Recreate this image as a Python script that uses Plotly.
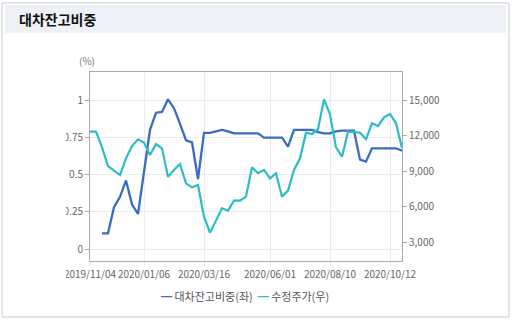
import plotly.graph_objects as go

# Weekly sample dates (category axis)
dates = [
    "2019/11/04", "2019/11/11", "2019/11/18", "2019/11/25", "2019/12/02", "2019/12/09",
    "2019/12/16", "2019/12/23", "2019/12/30", "2020/01/06", "2020/01/13", "2020/01/20",
    "2020/01/27", "2020/02/03", "2020/02/10", "2020/02/17", "2020/02/24", "2020/03/02",
    "2020/03/09", "2020/03/16", "2020/03/23", "2020/03/30", "2020/04/06", "2020/04/13",
    "2020/04/20", "2020/04/27", "2020/05/04", "2020/05/11", "2020/05/18", "2020/05/25",
    "2020/06/01", "2020/06/08", "2020/06/15", "2020/06/22", "2020/06/29", "2020/07/06",
    "2020/07/13", "2020/07/20", "2020/07/27", "2020/08/03", "2020/08/10", "2020/08/17",
    "2020/08/24", "2020/08/31", "2020/09/07", "2020/09/14", "2020/09/21", "2020/09/25",
    "2020/09/29", "2020/10/05", "2020/10/12", "2020/10/19", "2020/10/26",
]

# 대차잔고비중 (%), left axis
loan_ratio = [
    None, None, 0.105, 0.105, 0.28, 0.35, 0.46, 0.30, 0.235, 0.51,
    0.80, 0.915, 0.92, 1.005, 0.945, 0.84, 0.73, 0.715, 0.47, 0.78,
    0.78, 0.79, 0.80, 0.79, 0.776, 0.776, 0.776, 0.776, 0.776, 0.747,
    0.747, 0.747, 0.747, 0.687, 0.80, 0.80, 0.80, 0.80, 0.785, 0.776,
    0.776, 0.79, 0.794, 0.794, 0.794, 0.60, 0.586, 0.676, 0.676, 0.676,
    0.676, 0.676, 0.66,
]

# 수정주가 (원), right axis
adj_price = [
    12320, 12320, 11000, 9420, 9030, 8660, 10070, 11100, 11680, 11400,
    10350, 11280, 10920, 8520, 9090, 9590, 7960, 7620, 7820, 5140,
    3790, 4860, 5850, 5650, 6490, 6490, 6830, 9310, 8810, 9090,
    8380, 8810, 6830, 7340, 9090, 10070, 12240, 12130, 12520, 15050,
    13800, 11000, 10210, 12320, 12280, 12240, 11680, 13030, 12800, 13540,
    13820, 13030, 10920,
]

x_ticks = ["2019/11/04", "2020/01/06", "2020/03/16", "2020/06/01", "2020/08/10", "2020/10/12"]
left_ticks = [0, 0.25, 0.5, 0.75, 1]
left_labels = ["0", "0.25", "0.5", "0.75", "1"]
right_ticks = [3000, 6000, 9000, 12000, 15000]

names = ["대차잔고비중(좌)", "수정주가(우)"]
BLUE = "#3a6cc0"
TEAL = "#2cbdc2"
FONT = "Noto Sans CJK KR"

W, H = 512, 324
L, R, T, B = 90, 110, 72, 63
PW, PH = W - L - R, H - T - B


def px(x):
    return (x - L) / PW


def py(y):
    return (H - B - y) / PH


fig = go.Figure()
fig.add_trace(go.Scatter(x=dates, y=loan_ratio, name=names[0], mode="lines",
                         line=dict(color=BLUE, width=2.3), yaxis="y"))
fig.add_trace(go.Scatter(x=dates, y=adj_price, name=names[1], mode="lines",
                         line=dict(color=TEAL, width=2.2), yaxis="y2"))

axis_line = "#a9a9a9"
grid = "#ececec"
tick_font = dict(family=FONT, size=10, color="#666666")

fig.update_layout(
    width=W, height=H,
    margin=dict(l=L, r=R, t=T, b=B),
    paper_bgcolor="white", plot_bgcolor="white",
    showlegend=False,
    xaxis=dict(
        type="category", range=[0, len(dates) - 1],
        tickvals=x_ticks, ticktext=x_ticks,
        showgrid=True, gridcolor=grid, gridwidth=1,
        ticks="outside", ticklen=4, tickcolor=grid,
        showline=True, linecolor=axis_line, linewidth=1, mirror=True,
        tickfont=tick_font, tickangle=0,
    ),
    yaxis=dict(
        range=[-0.0805, 1.188],
        tickvals=left_ticks, ticktext=left_labels,
        showgrid=True, gridcolor=grid, gridwidth=1, zeroline=False,
        ticks="outside", ticklen=4, tickcolor=axis_line,
        showline=True, linecolor=axis_line, linewidth=1,
        tickfont=tick_font,
    ),
    yaxis2=dict(
        range=[1395, 17366], overlaying="y", side="right",
        tickvals=right_ticks, tickformat=",",
        showgrid=False, zeroline=False,
        ticks="outside", ticklen=4, tickcolor=axis_line,
        showline=True, linecolor=axis_line, linewidth=1,
        tickfont=tick_font,
    ),
)

shapes = [
    # outer frame
    dict(type="rect", xref="paper", yref="paper", x0=px(2), x1=px(509), y0=py(317), y1=py(3),
         line=dict(color="#c9c9c9", width=1), fillcolor="rgba(0,0,0,0)", layer="below"),
    # title bar
    dict(type="rect", xref="paper", yref="paper", x0=px(5), x1=px(506), y0=py(33), y1=py(5),
         line=dict(width=0), fillcolor="#eef1f6", layer="below"),
    # white mask on the chart's left edge
    dict(type="rect", xref="paper", yref="paper", x0=px(4), x1=px(66), y0=py(285), y1=py(40),
         line=dict(width=0), fillcolor="white", layer="above"),
]
fig.update_layout(shapes=shapes)

legend_text = (
    f'<span style="color:{BLUE}">━</span> {names[0]}  '
    f'<span style="color:{TEAL}">━</span> {names[1]}'
)

fig.update_layout(annotations=[
    dict(text="<b>대차잔고비중</b>", xref="paper", yref="paper", x=px(17), y=py(19),
         xanchor="left", yanchor="middle", showarrow=False,
         font=dict(family=FONT, size=14, color="#111111")),
    dict(text="(%)", xref="paper", yref="paper", x=px(87), y=py(60),
         xanchor="center", yanchor="middle", showarrow=False,
         font=dict(family=FONT, size=10, color="#777777")),
    dict(text=legend_text, xref="paper", yref="paper", x=px(245), y=py(296),
         xanchor="center", yanchor="middle", showarrow=False,
         font=dict(family=FONT, size=11, color="#555555")),
])

fig.write_html("out.html")
